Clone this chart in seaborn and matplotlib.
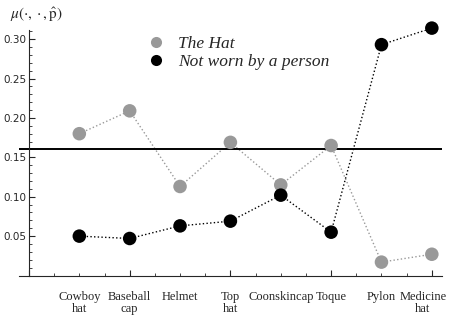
import numpy as np
import pandas as pd
import matplotlib
matplotlib.use("Agg")
import matplotlib.pyplot as plt
import matplotlib.transforms as mtransforms
import seaborn as sns
from matplotlib.ticker import MultipleLocator

# ---------------------------------------------------------------------------
# Data
# ---------------------------------------------------------------------------
categories = ["Cowboy\nhat", "Baseball\ncap", "Helmet", "Top\nhat",
              "Coonskincap", "Toque", "Pylon", "Medicine\nhat"]
the_hat = [0.180, 0.209, 0.113, 0.169, 0.115, 0.165, 0.017, 0.027]
not_worn = [0.050, 0.047, 0.063, 0.069, 0.102, 0.055, 0.293, 0.314]
threshold = 0.160

series_names = ["The Hat", "Not worn by a person"]
series_colors = ["#999999", "#000000"]

positions = np.arange(1, len(categories) + 1)
df = pd.DataFrame({
    "pos": np.concatenate([positions, positions]),
    "value": the_hat + not_worn,
    "series": [series_names[0]] * len(categories) + [series_names[1]] * len(categories),
})

# ---------------------------------------------------------------------------
# Plot
# ---------------------------------------------------------------------------
sns.set_style("ticks")
plt.rcParams["font.family"] = ["DejaVu Sans"]
plt.rcParams["mathtext.fontset"] = "stix"

fig = plt.figure(figsize=(4.5, 3.2), dpi=100)
ax = fig.add_axes([0.042, 0.139, 0.94, 0.767])

palette = dict(zip(series_names, series_colors))
sns.lineplot(data=df, x="pos", y="value", hue="series", palette=palette,
             linestyle=":", linewidth=1.0, legend=False, ax=ax)
sns.scatterplot(data=df, x="pos", y="value", hue="series", palette=palette,
                s=95, edgecolor="none", legend=False, ax=ax, zorder=3, clip_on=False)
ax.axhline(threshold, color="black", linewidth=1.4, zorder=2)

ax.set_xlim(-0.2, 8.2)
ax.set_ylim(0, 0.3115)
ax.spines["left"].set_position(("data", 0))
ax.spines["top"].set_visible(False)
ax.spines["right"].set_visible(False)
ax.spines["left"].set_linewidth(0.8)
ax.spines["bottom"].set_linewidth(0.8)

ax.yaxis.set_major_locator(MultipleLocator(0.05))
ax.yaxis.set_minor_locator(MultipleLocator(0.01))
ax.xaxis.set_major_locator(MultipleLocator(2))
ax.xaxis.set_minor_locator(MultipleLocator(0.5))
ax.tick_params(axis="both", which="major", direction="in", length=4, width=0.8,
               labelsize=7.5, pad=2)
ax.tick_params(axis="both", which="minor", direction="in", length=2, width=0.6)
ax.set_yticks([0.05, 0.10, 0.15, 0.20, 0.25, 0.30])
ax.set_yticklabels(["0.05", "0.10", "0.15", "0.20", "0.25", "0.30"])
ax.set_xticklabels([])
ax.set_xlabel("")
ax.set_ylabel("")

# category labels well below the axis; the last one is nudged left to fit
base = ax.get_xaxis_transform()
for i, (pos, label) in enumerate(zip(positions, categories)):
    shift = -9 if i == len(categories) - 1 else 0
    trans = mtransforms.offset_copy(base, fig=fig, x=shift, units="dots")
    ax.text(pos, -0.065, label, transform=trans,
            ha="center", va="top", fontsize=9, family="Liberation Serif",
            linespacing=0.95)

fig.text(0.022, 0.955, r"$\mu(\cdot,\cdot,\hat{\mathrm{p}})$",
         ha="left", va="center", fontsize=11)

# legend
handles = [plt.Line2D([], [], marker="o", linestyle="none", markersize=8,
                      markerfacecolor=c, markeredgecolor="none") for c in series_colors]
leg = ax.legend(handles, series_names, loc="upper left", bbox_to_anchor=(0.262, 1.01),
                frameon=False, handletextpad=0.3, borderpad=0, labelspacing=0.1,
                prop={"family": "Liberation Serif", "style": "italic", "size": 12.5})

fig.savefig("out.png", dpi=100)
